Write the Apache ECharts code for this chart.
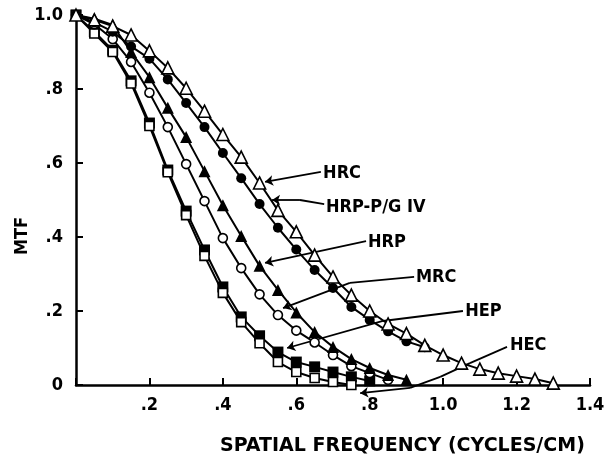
<!DOCTYPE html>
<html>
<head>
<meta charset="utf-8">
<script src="https://cdn.jsdelivr.net/npm/echarts@6/dist/echarts.min.js"></script>
<style>
html, body { margin: 0; padding: 0; background: #fff; }
#chart { width: 608px; height: 458px; }
</style>
</head>
<body>
<div id="chart"></div>
<script>
// spatial frequency (cycles/cm), one point every 0.05
var freq = [0, 0.05, 0.1, 0.15, 0.2, 0.25, 0.3, 0.35, 0.4, 0.45, 0.5, 0.55, 0.6,
	0.65, 0.7, 0.75, 0.8, 0.85, 0.9, 0.95, 1.0, 1.05, 1.1, 1.15, 1.2, 1.25, 1.3];

// MTF per film
var hrc = [1.0, 0.987, 0.97, 0.946, 0.903, 0.857, 0.802, 0.74, 0.677, 0.616, 0.546, 0.472, 0.414,
	0.351, 0.292, 0.243, 0.2, 0.165, 0.139, 0.107, 0.081, 0.059, 0.043, 0.032, 0.024, 0.016, 0.005];
var hrpPg = [1.0, 0.98, 0.955, 0.915, 0.882, 0.826, 0.762, 0.697, 0.627, 0.559, 0.489, 0.425, 0.366,
	0.311, 0.262, 0.211, 0.176, 0.145, 0.118, 0.102];
var hrp = [1.0, 0.99, 0.973, 0.9, 0.832, 0.749, 0.67, 0.578, 0.486, 0.403, 0.322, 0.257, 0.196,
	0.143, 0.103, 0.07, 0.046, 0.027, 0.014];
var mrc = [1.0, 0.975, 0.935, 0.873, 0.79, 0.697, 0.597, 0.497, 0.397, 0.316, 0.245, 0.189, 0.147,
	0.115, 0.081, 0.051, 0.032, 0.014];
var hep = [1.0, 0.955, 0.905, 0.822, 0.708, 0.581, 0.47, 0.365, 0.265, 0.184, 0.133, 0.089, 0.062,
	0.049, 0.035, 0.022, 0.011];
var hec = [1.0, 0.95, 0.9, 0.815, 0.7, 0.575, 0.459, 0.349, 0.249, 0.17, 0.113, 0.062, 0.035,
	0.019, 0.008, 0.0];

var curveNames = [ 'HRC', 'HRP-P/G IV', 'HRP', 'MRC', 'HEP', 'HEC' ];
var xTickLabels = [ '', '.2', '.4', '.6', '.8', '1.0', '1.2', '1.4' ];
var yTickLabels = [ '0', '.2', '.4', '.6', '.8', '1.0' ];

// callout text anchor and leader path, in data units
var notes = [
	{ at : [ 0.673, 0.573 ], path : [ [ 0.667, 0.576 ], [ 0.515, 0.549 ] ] },
	{ at : [ 0.681, 0.481 ], path : [ [ 0.676, 0.489 ], [ 0.61, 0.5 ], [ 0.534, 0.5 ] ] },
	{ at : [ 0.795, 0.386 ], path : [ [ 0.79, 0.389 ], [ 0.515, 0.33 ] ] },
	{ at : [ 0.926, 0.292 ], path : [ [ 0.921, 0.292 ], [ 0.746, 0.276 ], [ 0.564, 0.208 ] ] },
	{ at : [ 1.06, 0.2 ], path : [ [ 1.054, 0.2 ], [ 0.836, 0.173 ], [ 0.575, 0.1 ] ] },
	{ at : [ 1.182, 0.108 ], path : [ [ 1.174, 0.103 ], [ 1.073, 0.059 ], [ 0.992, 0.022 ],
		[ 0.91, -0.008 ], [ 0.774, -0.022 ] ] }
];

var narrow = '"Liberation Sans Narrow", "DejaVu Sans Condensed", sans-serif';

function pairs(vals) {
	return vals.map(function(v, i) {
		return [ freq[i], v ];
	});
}

function curve(name, vals, symbol, size, open) {
	return {
		type : 'line',
		name : name,
		data : pairs(vals),
		symbol : symbol,
		symbolSize : size,
		showAllSymbol : true,
		lineStyle : { color : '#000', width : 2 },
		itemStyle : {
			color : open ? '#fff' : '#000',
			borderColor : '#000',
			borderWidth : open ? 1.6 : 0
		}
	};
}

var plain = [], tips = [];
notes.forEach(function(n) {
	for (var i = 0; i < n.path.length - 1; i++) {
		var seg = { coords : [ n.path[i], n.path[i + 1] ] };
		if (i == n.path.length - 2)
			tips.push(seg);
		else
			plain.push(seg);
	}
});

var chart = echarts.init(document.getElementById('chart'));

chart.setOption({
	animation : false,
	backgroundColor : '#fff',
	grid : { left : 76, right : 18, top : 15, bottom : 73 },
	title : {
		text : 'SPATIAL FREQUENCY (CYCLES/CM)',
		left : 220,
		top : 437,
		padding : 0,
		textStyle : { fontFamily : 'DejaVu Sans', fontWeight : 'bold', fontSize : 19, color : '#000' }
	},
	xAxis : {
		type : 'value',
		min : 0,
		max : 1.4,
		interval : 0.2,
		splitLine : { show : false },
		axisLine : { onZero : false, lineStyle : { color : '#000', width : 2.5 } },
		axisTick : { inside : true, length : 7, lineStyle : { color : '#000', width : 2 } },
		axisLabel : {
			margin : 11,
			color : '#000',
			fontFamily : narrow,
			fontWeight : 'bold',
			fontSize : 18,
			formatter : function(v) {
				return xTickLabels[Math.round(v / 0.2)];
			}
		}
	},
	yAxis : {
		type : 'value',
		min : 0,
		max : 1,
		interval : 0.2,
		splitLine : { show : false },
		axisLine : { show : true, lineStyle : { color : '#000', width : 2.5 } },
		axisTick : { show : true, inside : true, length : 7, lineStyle : { color : '#000', width : 2 } },
		axisLabel : {
			margin : 13,
			color : '#000',
			fontFamily : narrow,
			fontWeight : 'bold',
			fontSize : 18,
			formatter : function(v) {
				return yTickLabels[Math.round(v / 0.2)];
			}
		}
	},
	series : [
		curve(curveNames[4], hep, 'rect', 11, false),
		curve(curveNames[5], hec, 'rect', 9, true),
		curve(curveNames[3], mrc, 'circle', 9, true),
		curve(curveNames[2], hrp, 'triangle', 12, false),
		curve(curveNames[1], hrpPg, 'circle', 10, false),
		curve(curveNames[0], hrc, 'triangle', 12, true),
		{
			type : 'lines',
			coordinateSystem : 'cartesian2d',
			clip : false,
			symbol : 'none',
			lineStyle : { color : '#000', width : 1.8, opacity : 1 },
			data : plain
		}, {
			type : 'lines',
			coordinateSystem : 'cartesian2d',
			clip : false,
			symbol : [ 'none', 'arrow' ],
			symbolSize : 8,
			lineStyle : { color : '#000', width : 1.8, opacity : 1 },
			data : tips
		}
	]
});

var texts = notes.map(function(n, i) {
	var p = chart.convertToPixel({ gridIndex : 0 }, n.at);
	return {
		type : 'text',
		x : p[0],
		y : p[1],
		style : {
			text : curveNames[i],
			fill : '#000',
			fontFamily : narrow,
			fontWeight : 'bold',
			fontSize : 18,
			verticalAlign : 'middle'
		}
	};
});
texts.push({
	type : 'text',
	x : 22,
	y : 236,
	rotation : Math.PI / 2,
	style : {
		text : 'MTF',
		fill : '#000',
		fontFamily : narrow,
		fontWeight : 'bold',
		fontSize : 18,
		align : 'center',
		verticalAlign : 'middle'
	}
});
chart.setOption({ graphic : texts });
</script>
</body>
</html>
